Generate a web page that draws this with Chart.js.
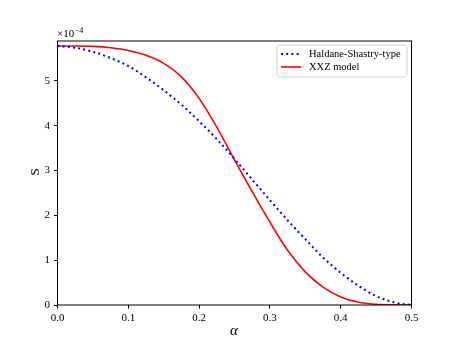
<!DOCTYPE html>
<html>
<head>
<meta charset="utf-8">
<script src="https://cdn.jsdelivr.net/npm/chart.js@4.4.1/dist/chart.umd.min.js"></script>
<style>
  html, body { margin:0; padding:0; background:#fff; }
  #wrap { width:457px; height:343px; }
</style>
</head>
<body>
<div id="wrap"><canvas id="chart"></canvas></div>
<script>
// ====== data (S in units of 1e-4) ======
const alpha = [0, 0.025, 0.05, 0.075, 0.1, 0.125, 0.15, 0.175, 0.2, 0.225, 0.25,
               0.275, 0.3, 0.325, 0.35, 0.375, 0.4, 0.425, 0.45, 0.475, 0.5];
const haldaneShastry = [5.78, 5.74, 5.65, 5.51, 5.33, 5.08, 4.79, 4.47, 4.10, 3.70, 3.26,
                        2.80, 2.34, 1.89, 1.47, 1.06, 0.72, 0.43, 0.20, 0.06, 0];
const xxz = [5.78, 5.78, 5.77, 5.74, 5.68, 5.57, 5.39, 5.09, 4.61, 3.97, 3.24,
             2.53, 1.85, 1.22, 0.74, 0.40, 0.18, 0.06, 0.015, 0.002, 0];
const seriesNames = ['Haldane-Shastry-type', 'XXZ model'];
const xTicks = [0, 0.1, 0.2, 0.3, 0.4, 0.5];
const yTicks = [0, 1, 2, 3, 4, 5];

const FONT = "'Liberation Serif', 'DejaVu Serif', serif";
const BLUE = '#0000ff';
const RED = '#ff0000';

const toXY = (ys) => alpha.map((a, i) => ({ x: a, y: ys[i] }));

// frame, axis labels, offset text and legend (matplotlib look)
const decorations = {
  id: 'decorations',
  afterDatasetsDraw(chart) {
    const { ctx, chartArea: a } = chart;
    ctx.save();
    // spines
    ctx.strokeStyle = '#000';
    ctx.lineWidth = 1;
    ctx.strokeRect(a.left, a.top, a.right - a.left, a.bottom - a.top);

    // axis labels
    ctx.fillStyle = '#000';
    ctx.font = `italic 15px ${FONT}`;
    ctx.textAlign = 'center';
    ctx.textBaseline = 'middle';
    ctx.fillText('α', 234, 331);
    ctx.save();
    ctx.translate(36, 172);
    ctx.rotate(-Math.PI / 2);
    ctx.font = `13px ${FONT}`;
    ctx.fillText('S', 0, 0);
    ctx.restore();

    // offset text ×10^-4
    ctx.textAlign = 'left';
    ctx.textBaseline = 'alphabetic';
    ctx.font = `11px ${FONT}`;
    ctx.fillText('×10', 57, 37);
    const w = ctx.measureText('×10').width;
    ctx.font = `8px ${FONT}`;
    ctx.fillText('−4', 57 + w + 0.5, 32.5);

    // legend box
    const bx = 277, by = 45, bw = 130, bh = 32, r = 2.5;
    ctx.beginPath();
    ctx.moveTo(bx + r, by);
    ctx.arcTo(bx + bw, by, bx + bw, by + bh, r);
    ctx.arcTo(bx + bw, by + bh, bx, by + bh, r);
    ctx.arcTo(bx, by + bh, bx, by, r);
    ctx.arcTo(bx, by, bx + bw, by, r);
    ctx.closePath();
    ctx.fillStyle = 'rgba(255,255,255,0.8)';
    ctx.fill();
    ctx.strokeStyle = '#d0d0d0';
    ctx.lineWidth = 1;
    ctx.stroke();

    const rows = [
      { label: seriesNames[0], color: BLUE, dash: [2, 3.2], width: 2, y: 54 },
      { label: seriesNames[1], color: RED, dash: [], width: 1.6, y: 67 }
    ];
    ctx.font = `10.5px ${FONT}`;
    ctx.textBaseline = 'middle';
    for (const row of rows) {
      ctx.beginPath();
      ctx.setLineDash(row.dash);
      ctx.strokeStyle = row.color;
      ctx.lineWidth = row.width;
      ctx.moveTo(281, row.y);
      ctx.lineTo(301, row.y);
      ctx.stroke();
      ctx.setLineDash([]);
      ctx.fillStyle = '#000';
      ctx.fillText(row.label, 309, row.y + 0.5);
    }
    ctx.restore();
  }
};

new Chart(document.getElementById('chart').getContext('2d'), {
  type: 'line',
  data: {
    datasets: [
      {
        label: seriesNames[0],
        data: toXY(haldaneShastry),
        borderColor: BLUE,
        borderWidth: 2,
        borderDash: [2, 3.2],
        pointRadius: 0,
        cubicInterpolationMode: 'monotone',
        fill: false
      },
      {
        label: seriesNames[1],
        data: toXY(xxz),
        borderColor: RED,
        borderWidth: 1.6,
        pointRadius: 0,
        cubicInterpolationMode: 'monotone',
        fill: false
      }
    ]
  },
  options: {
    responsive: true,
    maintainAspectRatio: false,
    animation: false,
    layout: { padding: { left: 0, top: 41, right: 45.5, bottom: 0 } },
    plugins: { legend: { display: false }, tooltip: { enabled: false } },
    scales: {
      x: {
        type: 'linear',
        min: 0, max: 0.5,
        afterFit: (s) => { s.height = 38; },
        afterBuildTicks: (s) => { s.ticks = xTicks.map(v => ({ value: v })); },
        border: { display: false },
        grid: { drawOnChartArea: false, drawTicks: true, tickLength: 3.5, tickColor: '#000', tickWidth: 1 },
        ticks: {
          color: '#000', padding: 3, maxRotation: 0,
          font: { family: FONT, size: 11 },
          callback: (v) => Number(v).toFixed(1)
        }
      },
      y: {
        type: 'linear',
        min: 0, max: 5.89,
        afterFit: (s) => { s.width = 57.5; },
        afterBuildTicks: (s) => { s.ticks = yTicks.map(v => ({ value: v })); },
        border: { display: false },
        grid: { drawOnChartArea: false, drawTicks: true, tickLength: 3.5, tickColor: '#000', tickWidth: 1 },
        ticks: {
          color: '#000', padding: 4,
          font: { family: FONT, size: 11 },
          callback: (v) => String(v)
        }
      }
    }
  },
  plugins: [decorations]
});
</script>
</body>
</html>
